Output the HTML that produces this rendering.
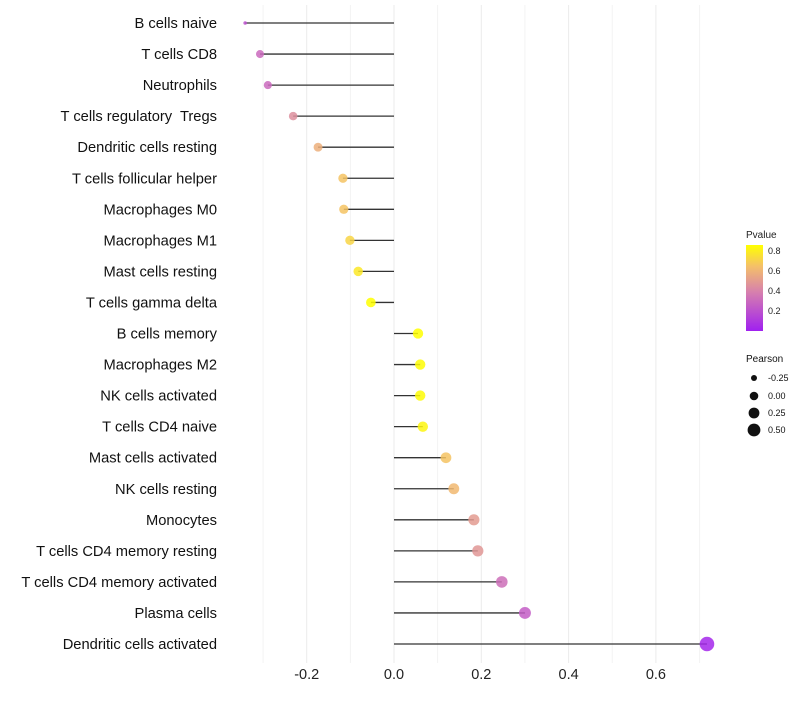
<!DOCTYPE html>
<html><head><meta charset="utf-8"><style>
body{margin:0;background:#fff;font-family:"Liberation Sans",sans-serif}
text{white-space:pre}
</style></head><body>
<svg id="c" width="800" height="700" xmlns="http://www.w3.org/2000/svg" xml:space="preserve">
<defs><linearGradient id="pg" x1="0" y1="1" x2="0" y2="0">
<stop offset="0" stop-color="#a020f0"/><stop offset="0.45" stop-color="#d67fae"/><stop offset="0.75" stop-color="#f4bf6a"/><stop offset="1" stop-color="#ffff00"/></linearGradient></defs>
<g id="grid"></g><g id="marks"></g><g id="labels"></g>
<g font-size="9" fill="#222">
<text x="746" y="238" font-size="10">Pvalue</text>
<rect x="746" y="245" width="17" height="86" fill="url(#pg)"/>
<text x="768" y="254">0.8</text><text x="768" y="274">0.6</text><text x="768" y="294">0.4</text><text x="768" y="314">0.2</text>
</g>
<g font-size="9" fill="#111">
<text x="746" y="362" font-size="10">Pearson</text>
<circle cx="754" cy="378" r="3"/><text x="768" y="381">-0.25</text>
<circle cx="754" cy="396" r="4.3"/><text x="768" y="399">0.00</text>
<circle cx="754" cy="413" r="5.4"/><text x="768" y="416">0.25</text>
<circle cx="754" cy="430" r="6.4"/><text x="768" y="433">0.50</text>
</g>
</svg>
<script>
const categories=["B cells naive","T cells CD8","Neutrophils","T cells regulatory  Tregs","Dendritic cells resting","T cells follicular helper","Macrophages M0","Macrophages M1","Mast cells resting","T cells gamma delta","B cells memory","Macrophages M2","NK cells activated","T cells CD4 naive","Mast cells activated","NK cells resting","Monocytes","T cells CD4 memory resting","T cells CD4 memory activated","Plasma cells","Dendritic cells activated"];
const pearson=[-0.341,-0.307,-0.289,-0.231,-0.174,-0.117,-0.115,-0.101,-0.082,-0.053,0.055,0.06,0.06,0.066,0.119,0.137,0.183,0.192,0.247,0.30,0.717];
const pvalues=[0.2,0.3,0.3,0.45,0.58,0.66,0.66,0.72,0.78,0.86,0.86,0.85,0.85,0.83,0.66,0.62,0.5,0.48,0.32,0.25,0.03];
const xTicks=[-0.2,0,0.2,0.4,0.6];
const xTickLabels=["-0.2","0.0","0.2","0.4","0.6"];
const NS="http://www.w3.org/2000/svg";
const x=v=>394+v*436.5;
const y=i=>23+i*31.05;
const r=v=>v<-0.33?1.8:Math.max(2,5+3.2*v);
function col(p){const t=Math.min(1,p/0.86);const s=[[0,[160,32,240]],[0.45,[214,127,174]],[0.75,[244,191,106]],[1,[255,255,0]]];
for(let k=1;k<s.length;k++){if(t<=s[k][0]){const a=s[k-1],b=s[k],f=(t-a[0])/(b[0]-a[0]);return "rgb("+a[1].map((c,j)=>Math.round(c+(b[1][j]-c)*f)).join(",")+")";}}return "rgb(255,255,0)";}
function el(tag,at,parent){const e=document.createElementNS(NS,tag);for(const k in at)e.setAttribute(k,at[k]);document.getElementById(parent).appendChild(e);return e;}
for(let v=-0.3;v<=0.71;v+=0.1){const g=el("line",{x1:x(v),x2:x(v),y1:5,y2:663,stroke:Math.abs(Math.round(v*10))%2===0?"#ebebeb":"#f3f3f3","stroke-width":1},"grid");

}
xTicks.forEach((t,i)=>{const e=el("text",{x:x(t),y:679,"text-anchor":"middle","font-size":14.5,fill:"#222"},"labels");e.textContent=xTickLabels[i];

});
categories.forEach((c,i)=>{
const t=el("text",{x:217,y:y(i)+5,"text-anchor":"end","font-size":14.7,fill:"#111"},"labels");t.textContent=c;


const l=el("line",{x1:x(0),x2:x(pearson[i]),y1:y(i),y2:y(i),stroke:"#333","stroke-width":1.3},"marks");


const p=el("circle",{cx:x(pearson[i]),cy:y(i),r:r(pearson[i]),fill:col(pvalues[i]),"fill-opacity":0.85},"marks");


});
</script>
</body></html>
